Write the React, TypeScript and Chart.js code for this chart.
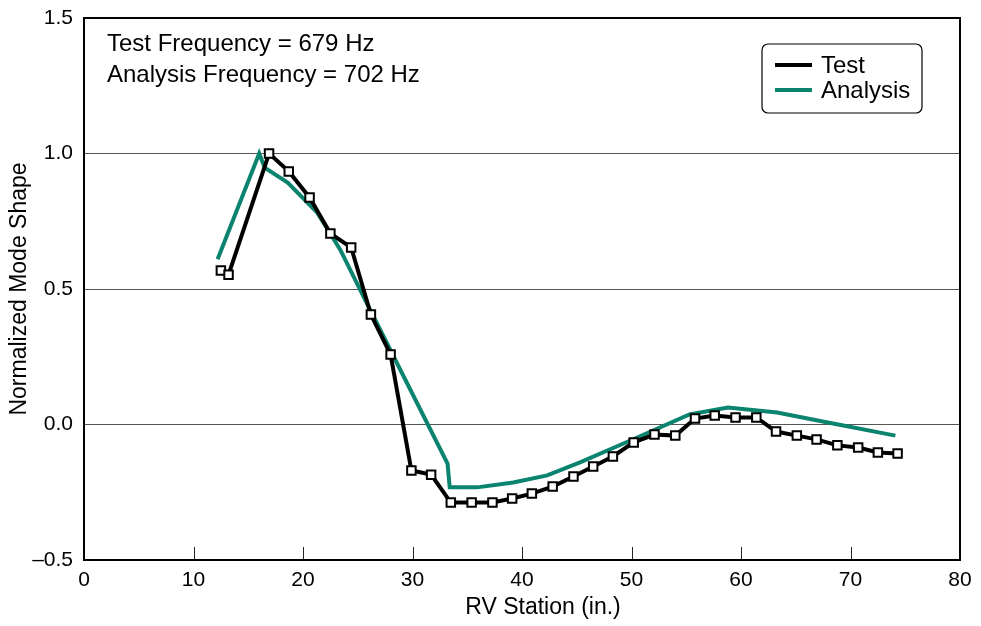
import React, { useEffect, useRef } from "react";
import { Chart, registerables } from "chart.js";

Chart.register(...registerables);

const testX = [12.5, 13.2, 16.9, 18.7, 20.6, 22.5, 24.4, 26.2, 28.0, 29.9, 31.7, 33.5, 35.4, 37.3, 39.1, 40.9, 42.8, 44.7, 46.5, 48.3, 50.2, 52.1, 54.0, 55.8, 57.6, 59.5, 61.4, 63.2, 65.1, 66.9, 68.8, 70.7, 72.5, 74.3];
const testY = [0.568, 0.553, 1.0, 0.934, 0.838, 0.705, 0.653, 0.406, 0.258, -0.17, -0.185, -0.288, -0.288, -0.288, -0.273, -0.255, -0.229, -0.192, -0.155, -0.118, -0.066, -0.037, -0.041, 0.022, 0.033, 0.026, 0.026, -0.026, -0.041, -0.055, -0.077, -0.085, -0.103, -0.107];

const analysisX = [12.2, 16.0, 16.5, 18.6, 21.3, 23.4, 25.8, 28.0, 33.2, 33.4, 35.9, 39.2, 42.3, 45.3, 49.9, 55.3, 58.8, 63.3, 68.4, 74.1];
const analysisY = [0.61, 1.0, 0.948, 0.893, 0.782, 0.645, 0.45, 0.273, -0.144, -0.232, -0.232, -0.214, -0.188, -0.14, -0.059, 0.037, 0.063, 0.044, 0.004, -0.041];

const xTickValues = [0, 10, 20, 30, 40, 50, 60, 70, 80];
const xTickLabels = ["0", "10", "20", "30", "40", "50", "60", "70", "80"];
const yTickValues = [-0.5, 0, 0.5, 1.0, 1.5];
const yTickLabels = ["\u20130.5", "0.0", "0.5", "1.0", "1.5"];

const annotationLines = ["Test Frequency = 679 Hz", "Analysis Frequency = 702 Hz"];
const legendLabels = ["Test", "Analysis"];
const xTitle = "RV Station (in.)";
const yTitle = "Normalized Mode Shape";

const GREEN = "#0a846f";
const SANS = "'Liberation Sans', Arial, sans-serif";

const decorPlugin = {
  id: "decor",
  afterDatasetsDraw(chart: any) {
    const { ctx, chartArea } = chart;
    const xs = chart.scales.x;
    ctx.save();
    // inward ticks on x axis
    ctx.strokeStyle = "#222";
    ctx.lineWidth = 1;
    xTickValues.forEach((v) => {
      if (v === 0 || v === 80) return;
      const px = Math.round(xs.getPixelForValue(v)) + 0.5;
      ctx.beginPath();
      ctx.moveTo(px, chartArea.bottom);
      ctx.lineTo(px, chartArea.bottom - 13);
      ctx.stroke();
    });
    // frame
    ctx.strokeStyle = "#000";
    ctx.lineWidth = 2;
    ctx.strokeRect(chartArea.left, chartArea.top, chartArea.right - chartArea.left, chartArea.bottom - chartArea.top);

    // annotation
    ctx.fillStyle = "#000";
    ctx.font = `24px ${SANS}`;
    ctx.textAlign = "left";
    ctx.textBaseline = "middle";
    ctx.fillText(annotationLines[0], chartArea.left + 23, chartArea.top + 26);
    ctx.fillText(annotationLines[1], chartArea.left + 23, chartArea.top + 57);

    // legend
    const lx = 762, ly = 44, lw = 160, lh = 69;
    ctx.lineWidth = 1.2;
    ctx.strokeStyle = "#000";
    ctx.fillStyle = "#fff";
    ctx.beginPath();
    (ctx as any).roundRect(lx, ly, lw, lh, 6);
    ctx.fill();
    ctx.stroke();
    const colors = ["#000", GREEN];
    legendLabels.forEach((lab, i) => {
      const y = ly + 21 + i * 25;
      ctx.strokeStyle = colors[i];
      ctx.lineWidth = 4;
      ctx.beginPath();
      ctx.moveTo(lx + 13, y);
      ctx.lineTo(lx + 50, y);
      ctx.stroke();
      ctx.fillStyle = "#000";
      ctx.font = `24px ${SANS}`;
      ctx.textAlign = "left";
      ctx.textBaseline = "middle";
      ctx.fillText(lab, lx + 59, y + 1);
    });

    // x title
    ctx.fillStyle = "#000";
    ctx.font = `23px ${SANS}`;
    ctx.textAlign = "center";
    ctx.textBaseline = "middle";
    ctx.fillText(xTitle, 543, 608);
    ctx.restore();
  },
};

export default function App() {
  const ref = useRef<HTMLCanvasElement | null>(null);
  useEffect(() => {
    if (!ref.current) return;
    const chart = new Chart(ref.current, {
      type: "line",
      data: {
        datasets: [
          {
            label: legendLabels[0],
            data: testX.map((x, i) => ({ x, y: testY[i] })),
            borderColor: "#000",
            borderWidth: 4,
            pointStyle: "rect",
            pointRadius: 6,
            pointBorderWidth: 2,
            pointBackgroundColor: "#fff",
            pointBorderColor: "#000",
            tension: 0,
            fill: false,
          },
          {
            label: legendLabels[1],
            data: analysisX.map((x, i) => ({ x, y: analysisY[i] })),
            borderColor: GREEN,
            borderWidth: 4,
            pointRadius: 0,
            tension: 0,
            fill: false,
          },
        ],
      },
      options: {
        animation: false,
        responsive: false,
        layout: { padding: { left: 0, right: 21, top: 18, bottom: 0 } },
        plugins: { legend: { display: false }, tooltip: { enabled: false } },
        scales: {
          x: {
            type: "linear",
            min: 0,
            max: 80,
            afterBuildTicks: (s: any) => {
              s.ticks = xTickValues.map((v) => ({ value: v }));
            },
            afterFit: (s: any) => {
              s.height = 66;
              s.paddingLeft = 0;
              s.paddingRight = 0;
            },
            grid: { display: false, drawTicks: false },
            border: { display: false },
            ticks: {
              padding: 8,
              color: "#000",
              font: { family: SANS, size: 21 },
              callback: (v: any) => xTickLabels[xTickValues.indexOf(Number(v))] ?? "",
              maxRotation: 0,
              autoSkip: false,
            },
          },
          y: {
            type: "linear",
            min: -0.5,
            max: 1.5,
            afterBuildTicks: (s: any) => {
              s.ticks = yTickValues.map((v) => ({ value: v }));
            },
            afterFit: (s: any) => {
              s.width = 84;
              s.paddingTop = 0;
              s.paddingBottom = 0;
            },
            grid: { color: "#555", lineWidth: 1, drawTicks: false },
            border: { display: false },
            ticks: {
              padding: 11,
              color: "#000",
              font: { family: SANS, size: 21 },
              callback: (v: any) => {
                const idx = yTickValues.findIndex((t) => Math.abs(t - Number(v)) < 1e-9);
                return idx >= 0 ? yTickLabels[idx] : "";
              },
              autoSkip: false,
            },
            title: {
              display: true,
              text: yTitle,
              color: "#000",
              font: { family: SANS, size: 23 },
              padding: { top: 6, bottom: 0 },
            },
          },
        },
      },
      plugins: [decorPlugin],
    } as any);
    return () => chart.destroy();
  }, []);
  return (
    <div style={{ position: "fixed", left: 0, top: 0, width: 981, height: 626, background: "#fff" }}>
      <canvas ref={ref} width={981} height={626} style={{ display: "block" }} />
    </div>
  );
}
